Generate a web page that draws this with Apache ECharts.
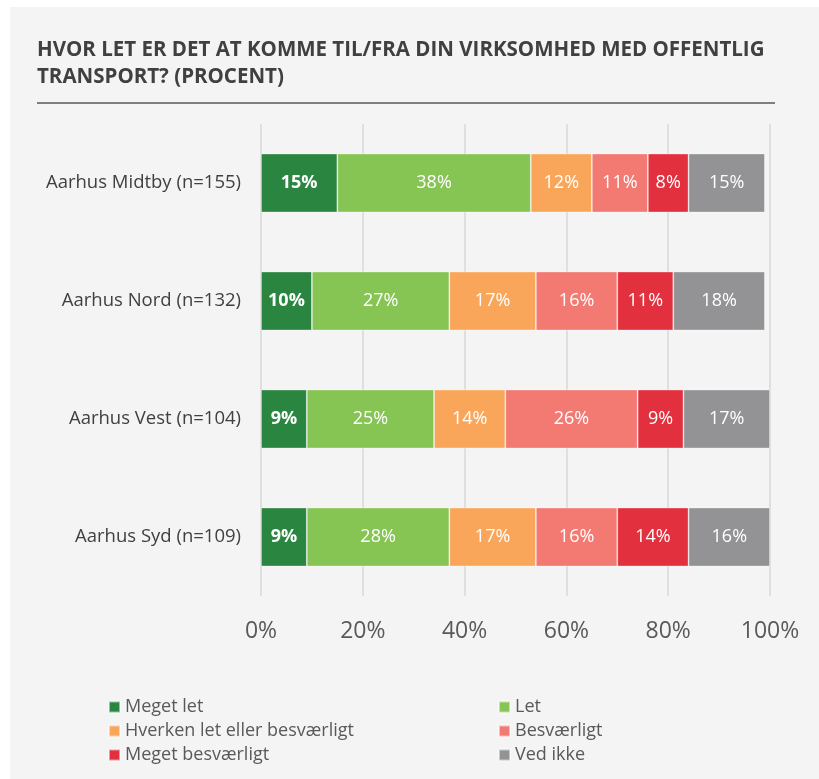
<!DOCTYPE html>
<html><head><meta charset="utf-8">
<script src="https://cdn.jsdelivr.net/npm/echarts@6/dist/echarts.min.js"></script>
<style>
html,body{margin:0;padding:0;background:#ffffff;}
#bg{position:absolute;left:10px;top:7px;right:0;bottom:0;background:#f4f4f4;}
#c{position:absolute;left:0;top:0;width:819px;height:779px;}
</style></head>
<body><div id="bg"></div><div id="c"></div>
<script>
const categories = ['Aarhus Midtby (n=155)','Aarhus Nord (n=132)','Aarhus Vest (n=104)','Aarhus Syd (n=109)'];
const seriesNames = ['Meget let','Let','Hverken let eller besværligt','Besværligt','Meget besværligt','Ved ikke'];
const megetLet = [15,10,9,9];
const let_ = [38,27,25,28];
const hverken = [12,17,14,17];
const besvaerligt = [11,16,26,16];
const megetBesvaerligt = [8,11,9,14];
const vedIkke = [15,18,17,16];
const xTicks = [0,20,40,60,80,100];
const colors = ['#2a8540','#86c454','#f9a65a','#f27a72','#e3303e','#939396'];
const values = [megetLet,let_,hverken,besvaerligt,megetBesvaerligt,vedIkke];
const FONT = '"Open Sans", sans-serif';

const legendText = {fontFamily:FONT, fontSize:18, color:'#595959', lineHeight:20};
const chart = echarts.init(document.getElementById('c'));
chart.setOption({
  backgroundColor: 'transparent',
  animation: false,
  textStyle: {fontFamily: FONT},
  title: {
    text: 'HVOR LET ER DET AT KOMME TIL/FRA DIN VIRKSOMHED MED OFFENTLIG\nTRANSPORT? (PROCENT)',
    left: 32, top: 32,
    textStyle: {fontFamily: FONT, fontSize: 20.5, fontWeight: 'bold', color: '#404040', lineHeight: 27}
  },
  graphic: [{type:'line', shape:{x1:37,y1:103,x2:775,y2:103}, style:{stroke:'#595959', lineWidth:1.5}}],
  legend: [
    {data:[seriesNames[0],seriesNames[2],seriesNames[4]], orient:'vertical', left:103, top:692,
     itemWidth:11, itemHeight:11, itemGap:4, icon:'rect', textStyle:legendText},
    {data:[seriesNames[1],seriesNames[3],seriesNames[5]], orient:'vertical', left:493, top:692,
     itemWidth:11, itemHeight:11, itemGap:4, icon:'rect', textStyle:legendText}
  ],
  grid: {left:261, right:49, top:124, bottom:183, containLabel:false},
  xAxis: {
    type:'value', min:0, max:100, interval:20,
    axisLine:{show:false}, axisTick:{show:false},
    splitLine:{show:true, lineStyle:{color:'#d9d9d9', width:1.5}},
    axisLabel:{formatter: v => xTicks.includes(v) ? v + '%' : '', fontSize:23, color:'#595959', margin:24, fontFamily:FONT}
  },
  yAxis: {
    type:'category', data:categories, inverse:true,
    axisLine:{show:false}, axisTick:{show:false},
    axisLabel:{fontSize:18.5, color:'#404040', margin:20, fontFamily:FONT}
  },
  series: values.map((vals,i) => ({
    name: seriesNames[i], type:'bar', stack:'total', data: vals, barWidth: 59,
    itemStyle:{color: colors[i], borderColor:'rgba(255,255,255,0.5)', borderWidth:0.8},
    label:{show:true, position:'inside', formatter:'{c}%', color:'#ffffff', fontSize:18,
      fontWeight: i===0 ? 'bold' : 'normal', fontFamily:FONT}
  }))
});
</script></body></html>
